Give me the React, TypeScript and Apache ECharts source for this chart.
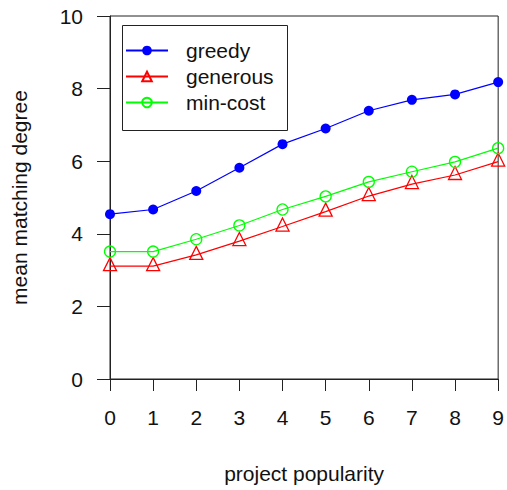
import React, { useEffect, useRef } from "react";
import * as echarts from "echarts";

const xValues = [0, 1, 2, 3, 4, 5, 6, 7, 8, 9];
const greedy = [4.54, 4.67, 5.18, 5.82, 6.47, 6.9, 7.39, 7.69, 7.84, 8.18];
const generous = [3.11, 3.11, 3.42, 3.8, 4.2, 4.61, 5.04, 5.37, 5.62, 5.99];
const minCost = [3.51, 3.51, 3.85, 4.23, 4.67, 5.03, 5.43, 5.71, 5.98, 6.36];
const seriesNames = ["greedy", "generous", "min-cost"];

const FONT = "Liberation Sans, Arial, sans-serif";
const AXIS_COLOR = "#222";
const FS = 21;

export default function App() {
  const ref = useRef<HTMLDivElement>(null);
  useEffect(() => {
    if (!ref.current) return;
    const chart = echarts.init(ref.current, undefined, { renderer: "svg" });
    const pair = (arr: number[]) => xValues.map((x, i) => [x, arr[i]]);
    chart.setOption({
      animation: false,
      backgroundColor: "#fff",
      textStyle: { fontFamily: FONT },
      grid: {
        left: 110,
        top: 16,
        right: 4,
        bottom: 111,
        show: true,
        borderColor: AXIS_COLOR,
        borderWidth: 1,
        containLabel: false,
      },
      xAxis: {
        type: "value",
        min: 0,
        max: 9,
        interval: 1,
        name: "project popularity",
        nameLocation: "middle",
        nameGap: 84,
        nameTextStyle: { fontSize: FS, color: "#111", fontFamily: FONT },
        axisLine: { show: true, lineStyle: { color: AXIS_COLOR, width: 1 } },
        axisTick: { show: true, inside: false, length: 12, lineStyle: { color: AXIS_COLOR, width: 1 } },
        axisLabel: { fontSize: FS, color: "#111", margin: 28, fontFamily: FONT, showMaxLabel: true, showMinLabel: true },
        splitLine: { show: false },
      },
      yAxis: {
        type: "value",
        min: 0,
        max: 10,
        interval: 2,
        name: "mean matching degree",
        nameLocation: "middle",
        nameGap: 80,
        nameRotate: 90,
        nameTextStyle: { fontSize: FS, color: "#111", fontFamily: FONT },
        axisLine: { show: true, lineStyle: { color: AXIS_COLOR, width: 1 } },
        axisTick: { show: true, inside: false, length: 13, lineStyle: { color: AXIS_COLOR, width: 1 } },
        axisLabel: { fontSize: FS, color: "#111", margin: 27, fontFamily: FONT },
        splitLine: { show: false },
      },
      legend: {
        orient: "vertical",
        left: 125,
        top: 40,
        padding: 0,
        itemWidth: 42,
        itemHeight: 12,
        itemGap: 5,
        textStyle: { fontSize: FS, color: "#111", fontFamily: FONT, padding: [0, 0, 0, 13] },
        data: seriesNames,
      },
      graphic: [
        {
          type: "rect",
          left: 120,
          top: 23,
          shape: { width: 165, height: 105 },
          style: { fill: "none", stroke: AXIS_COLOR, lineWidth: 1 },
          silent: true,
        },
      ],
      series: [
        {
          name: "greedy",
          type: "line",
          data: pair(greedy),
          symbol: "circle",
          symbolSize: 10,
          lineStyle: { color: "#0000ff", width: 1.2 },
          itemStyle: { color: "#0000ff" },
        },
        {
          name: "generous",
          type: "line",
          data: pair(generous),
          symbol: "triangle",
          symbolSize: 13,
          symbolOffset: [0, -2],
          lineStyle: { color: "#ff0000", width: 1.2 },
          itemStyle: { color: "rgba(255,255,255,0)", borderColor: "#ff0000", borderWidth: 1.3 },
        },
        {
          name: "min-cost",
          type: "line",
          data: pair(minCost),
          symbol: "circle",
          symbolSize: 11,
          lineStyle: { color: "#00ff00", width: 1.2 },
          itemStyle: { color: "rgba(255,255,255,0)", borderColor: "#00ff00", borderWidth: 1.3 },
        },
      ],
    });
    return () => chart.dispose();
  }, []);
  return (
    <div
      ref={ref}
      style={{ position: "fixed", left: 0, top: 0, width: 507, height: 490, background: "#fff" }}
    />
  );
}
